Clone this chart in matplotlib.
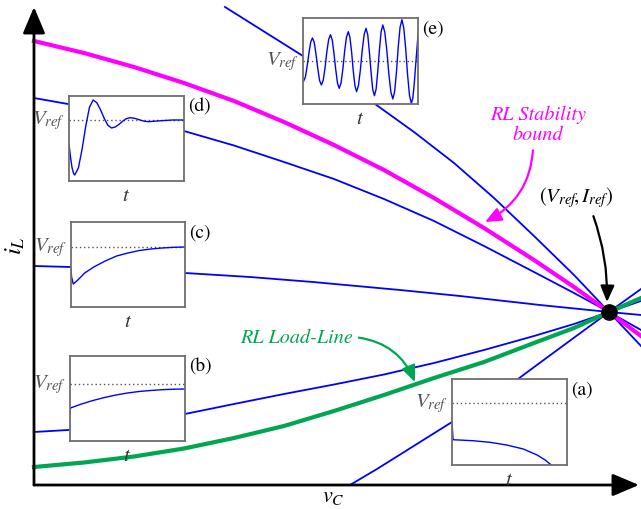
"""
RL 부하선 / 안정 경계와 상태평면 궤적 (a)-(e) 재현
"""
import matplotlib
matplotlib.use("Agg")
import matplotlib.pyplot as plt

plt.rcParams["mathtext.fontset"] = "stix"
plt.rcParams["font.family"] = "STIXGeneral"

W, H = 641, 510          # output size in px
ORIG = (34, 486)         # pixel position of the (v_C, i_L) origin

# state-plane curves, v_C / i_L (px offsets from the origin)
mag_v = [0, 50, 100, 150, 200, 250, 300, 350, 400, 450, 500, 540, 575, 607]
mag_i = [444, 432, 418, 402, 384, 363, 340, 315, 287, 257, 225, 198, 173, 149]

green_v = [0, 50, 100, 150, 200, 250, 300, 350, 400, 450, 500, 540, 575, 607]
green_i = [18, 22.5, 28.5, 36.5, 47, 59, 74, 90, 107, 123, 142, 157, 173, 187]

traj_e_v = [191, 269, 341, 380, 420, 460, 500, 540, 575, 607]
traj_e_i = [478, 429, 381, 353, 322, 287, 249, 210, 173, 139]

traj_d_v = [0, 34, 150, 200, 250, 300, 350, 400, 450, 500, 540, 575, 607]
traj_d_i = [387, 381, 354, 339.5, 323, 306, 286, 264, 239, 213, 192, 173, 155]

traj_c_v = [0, 37, 151, 216, 279, 366, 426, 506, 575, 607]
traj_c_i = [219, 218, 212, 208, 203, 195, 189, 180, 173, 170]

traj_b_v = [0, 34, 151, 200, 250, 300, 350, 400, 450, 500, 540, 575, 607]
traj_b_i = [53, 55, 71, 81, 91, 100.5, 110.5, 122, 135, 149, 161, 173, 184]

traj_a_v = [316, 343, 418, 484, 511, 575, 607]
traj_a_i = [0, 16, 63, 106, 126, 173, 196]

ref_v, ref_i = 575, 173

# inset time responses (t normalised, value in px above the box bottom)
wave_a_t = [0, 0.009, 0.18, 0.33, 0.475, 0.62, 0.74, 0.81, 0.863]
wave_a_y = [42.7, 25.3, 24.3, 22.7, 20, 16, 10, 5, 0]
vref_a = 62

wave_b_t = [0, 0.004, 0.1, 0.2, 0.3, 0.4, 0.5, 0.6, 0.7, 0.8, 0.9, 1.0]
wave_b_y = [27, 33, 37, 40.5, 43.5, 46, 48, 49.5, 50.5, 51.3, 51.8, 52]
vref_b = 57

wave_c_t = [0, 0.005, 0.02, 0.06, 0.12, 0.2, 0.3, 0.4, 0.5, 0.6, 0.7, 0.8, 0.9, 1.0]
wave_c_y = [38, 30, 23, 27, 34, 40, 46, 51, 54, 56.5, 58, 59, 59.7, 60]
vref_c = 60.5

wave_d_t = [0, 0.013, 0.027, 0.04, 0.05, 0.082, 0.114, 0.146, 0.178, 0.21,
            0.242, 0.274, 0.306, 0.338, 0.37, 0.402, 0.434, 0.466, 0.498, 0.53,
            0.562, 0.594, 0.626, 0.658, 0.69, 0.8, 0.9, 1.0]
wave_d_y = [37, 24, 13, 7.5, 6, 13.2, 31.9, 55.1, 73.8, 81,
            78.3, 71.3, 62.7, 55.7, 53, 54, 56.6, 59.7, 62.3, 63.3,
            62.9, 61.9, 60.7, 59.7, 59.3, 60.3, 61, 61]
vref_d = 61

wave_e_t = [0.006, 0.021, 0.036, 0.052, 0.067, 0.082,
            0.098, 0.113, 0.129, 0.144, 0.160,
            0.176, 0.192, 0.207, 0.223, 0.239,
            0.254, 0.269, 0.285, 0.300, 0.315,
            0.331, 0.347, 0.362, 0.378, 0.394,
            0.408, 0.423, 0.437, 0.452, 0.466,
            0.482, 0.499, 0.515, 0.532, 0.548,
            0.563, 0.577, 0.592, 0.606, 0.621,
            0.636, 0.650, 0.665, 0.679, 0.694,
            0.711, 0.729, 0.746, 0.764, 0.781,
            0.797, 0.813, 0.828, 0.844, 0.860,
            0.876, 0.893, 0.909, 0.926, 0.942,
            0.955, 0.968, 0.982, 1.0]
wave_e_y = [23, 27.1, 37.9, 51.1, 61.9, 66,
            61.5, 49.8, 35.2, 23.5, 19,
            23.8, 36.4, 51.9, 64.5, 69.3,
            64.2, 50.8, 34.2, 20.8, 15.7,
            21.1, 35.3, 52.7, 66.9, 72.3,
            66.6, 51.6, 33.0, 18.0, 12.3,
            18.4, 34.2, 53.8, 69.6, 75.7,
            69.3, 52.4, 31.6, 14.7, 8.3,
            15.05, 32.7, 54.6, 72.2, 79,
            71.9, 53.4, 30.6, 12.1, 5,
            12.6, 32.4, 56.9, 76.7, 84.3,
            76.3, 55.4, 29.6, 8.7, 0.7,
            5.8, 21.2, 42.5, 68.9]
vref_e = 43

BLUE = "#0000ff"
MAGENTA = "#ff00ff"
GREEN = "#00a651"
GRAY = "#6e6e6e"


def px_box(x0, y0, w, h):
    return [x0 / W, 1 - (y0 + h) / H, w / W, h / H]


def px2data(px, py):
    return px - ORIG[0], ORIG[1] - py


fig = plt.figure(figsize=(W / 100, H / 100), dpi=100)
ax = fig.add_axes(px_box(ORIG[0], 0, W - ORIG[0], ORIG[1]))
ax.set_xlim(0, W - ORIG[0])
ax.set_ylim(0, ORIG[1])
ax.axis("off")

# trajectories
for vs, iss in [(traj_e_v, traj_e_i), (traj_d_v, traj_d_i), (traj_c_v, traj_c_i),
                (traj_b_v, traj_b_i), (traj_a_v, traj_a_i)]:
    ax.plot(vs, iss, color=BLUE, lw=1.3, zorder=2, clip_on=False)
ax.plot(mag_v, mag_i, color=MAGENTA, lw=3.0, zorder=3, clip_on=False)
ax.plot(green_v, green_i, color=GREEN, lw=3.0, zorder=3, clip_on=False)
ax.plot([ref_v], [ref_i], "o", ms=11, color="k", zorder=6, clip_on=False)

# axes arrows
arrow_kw = dict(arrowstyle="-|>,head_length=0.9,head_width=0.38", lw=2.0,
                color="k", shrinkA=0, shrinkB=0, mutation_scale=18)
ax.annotate("", xy=(W - ORIG[0] - 2, 0), xytext=(0, 0), arrowprops=arrow_kw,
            annotation_clip=False)
ax.annotate("", xy=(0, ORIG[1] - 8), xytext=(0, 0), arrowprops=arrow_kw,
            annotation_clip=False)

fig.text(16 / W, 1 - 246 / H, r"$i_L$", rotation=90, fontsize=18,
         ha="center", va="center")
fig.text(333 / W, 1 - 502 / H, r"$v_C$", fontsize=16, ha="center", va="baseline")

# annotations
ax.annotate("RL Stability\nbound", xy=px2data(485, 223), xytext=px2data(538, 125),
            color=MAGENTA, fontsize=14.5, style="italic", ha="center", va="center",
            linespacing=1.15,
            arrowprops=dict(arrowstyle="-|>,head_length=0.7,head_width=0.3",
                            color=MAGENTA, lw=1.6, shrinkA=3, shrinkB=0,
                            mutation_scale=14, connectionstyle="arc3,rad=-0.3",
                            relpos=(0.45, 0.0)))
ax.annotate("RL Load-Line", xy=px2data(415, 383), xytext=px2data(297, 338),
            color=GREEN, fontsize=14.5, style="italic", ha="center", va="center",
            arrowprops=dict(arrowstyle="-|>,head_length=0.7,head_width=0.3",
                            color=GREEN, lw=1.6, shrinkA=2, shrinkB=0,
                            mutation_scale=14, connectionstyle="arc3,rad=-0.3",
                            relpos=(1.0, 0.5)))
ax.annotate(r"$(V_{ref}\!,I_{ref})$", xy=px2data(607, 303), xytext=px2data(576, 198),
            color="k", fontsize=15, ha="center", va="center",
            arrowprops=dict(arrowstyle="-|>,head_length=0.7,head_width=0.3",
                            color="k", lw=1.6, shrinkA=3, shrinkB=0,
                            mutation_scale=14, connectionstyle="arc3,rad=-0.1",
                            relpos=(0.7, 0.0)))

# insets: (box px, t, y, vref, label)
insets = [
    ((452, 380, 115, 86), wave_a_t, wave_a_y, vref_a, "(a)"),
    ((70, 357, 115, 85), wave_b_t, wave_b_y, vref_b, "(b)"),
    ((71, 223, 114, 85), wave_c_t, wave_c_y, vref_c, "(c)"),
    ((69, 97, 115, 85), wave_d_t, wave_d_y, vref_d, "(d)"),
    ((303, 19, 115, 86), wave_e_t, wave_e_y, vref_e, "(e)"),
]
for box, tt, yy, vref, lab in insets:
    ia = fig.add_axes(px_box(*box))
    ia.set_xlim(0, 1)
    ia.set_ylim(0, box[3])
    ia.set_xticks([])
    ia.set_yticks([])
    ia.set_facecolor("white")
    for sp in ia.spines.values():
        sp.set_color(GRAY)
        sp.set_linewidth(1.3)
    ia.axhline(vref, color="#555555", lw=1.0, ls=(0, (1, 2)))
    ia.plot(tt, yy, color=BLUE, lw=1.0)
    ia.text(-0.03, vref, r"$V_{ref}$", transform=ia.get_yaxis_transform(),
            ha="right", va="center", fontsize=15, color="#555555")
    ia.text(0.5, -0.05, r"$t$", transform=ia.transAxes, ha="center", va="top",
            fontsize=15, color="#333333")
    ia.text(1.04, 0.88, lab, transform=ia.transAxes, ha="left", va="center",
            fontsize=14, color="k")

fig.savefig("out.png", dpi=100)
